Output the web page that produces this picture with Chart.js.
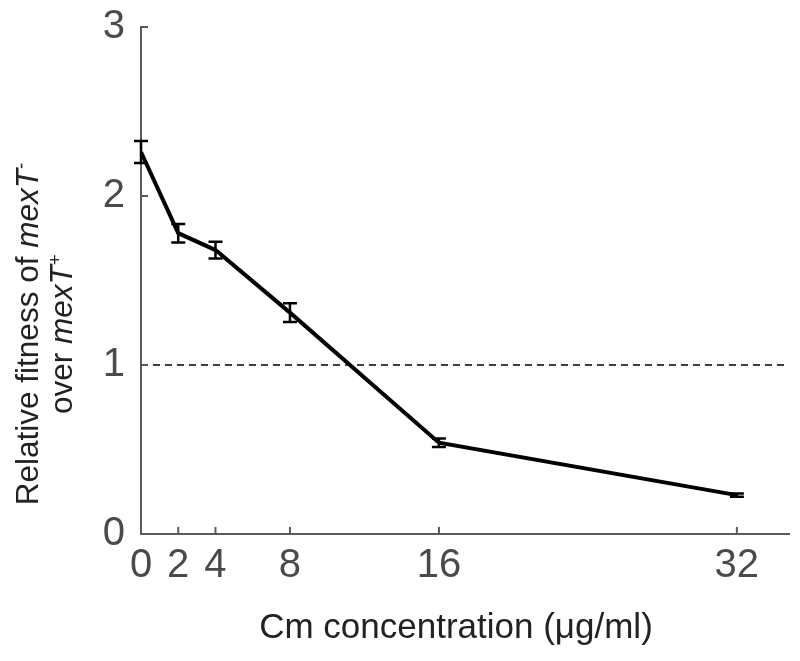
<!DOCTYPE html>
<html>
<head>
<meta charset="utf-8">
<script src="https://cdn.jsdelivr.net/npm/chart.js@4.4.1/dist/chart.umd.min.js"></script>
<style>
  html, body { margin: 0; padding: 0; background: #fff; }
  #wrap { position: relative; width: 800px; height: 661px; }
  #ytitle {
    position: absolute; left: 44px; top: 334px; width: 420px;
    transform: translate(-50%, -50%) rotate(-90deg);
    font-family: "Liberation Sans", Arial, sans-serif; font-size: 31.5px;
    line-height: 34px; text-align: center; color: #222;
  }
  #xtitle {
    position: absolute; left: 456px; top: 626px; transform: translate(-50%, -50%);
    font-family: "Liberation Sans", Arial, sans-serif; font-size: 35px;
    color: #222; white-space: nowrap;
  }
  sup { font-size: 60%; line-height: 0; }
</style>
</head>
<body>
<div id="wrap">
  <canvas id="fitChart" width="800" height="661"></canvas>
  <div id="ytitle">Relative fitness of <i>mexT</i><sup>-</sup><br>over <i>mexT</i><sup>+</sup></div>
  <div id="xtitle">Cm concentration (μg/ml)</div>
</div>
<script>
// data
var concentrations = [0, 2, 4, 8, 16, 32];
var fitness = [2.26, 1.78, 1.68, 1.31, 0.54, 0.23];
var fitnessErr = [0.065, 0.055, 0.05, 0.055, 0.025, 0.01];
var xTicks = [0, 2, 4, 8, 16, 32];
var yTicks = [0, 1, 2, 3];
var neutralLine = 1;

var axisColor = '#5a5a5a';

// error bars + inward tick marks
var extrasPlugin = {
    id: 'extras',
    afterDatasetsDraw: function (chart) {
        var ctx = chart.ctx;
        var xs = chart.scales.x, ys = chart.scales.y;
        ctx.save();
        ctx.strokeStyle = '#000';
        ctx.lineWidth = 2.5;
        concentrations.forEach(function (c, i) {
            var px = xs.getPixelForValue(c);
            var top = ys.getPixelForValue(fitness[i] + fitnessErr[i]);
            var bot = ys.getPixelForValue(fitness[i] - fitnessErr[i]);
            ctx.beginPath();
            ctx.moveTo(px, top); ctx.lineTo(px, bot);
            ctx.moveTo(px - 7, top); ctx.lineTo(px + 7, top);
            ctx.moveTo(px - 7, bot); ctx.lineTo(px + 7, bot);
            ctx.stroke();
        });
        ctx.strokeStyle = axisColor;
        ctx.lineWidth = 2;
        var area = chart.chartArea;
        xTicks.forEach(function (t) {
            var px = xs.getPixelForValue(t);
            ctx.beginPath();
            ctx.moveTo(px, area.bottom); ctx.lineTo(px, area.bottom - 7);
            ctx.stroke();
        });
        yTicks.forEach(function (t) {
            var py = ys.getPixelForValue(t);
            ctx.beginPath();
            ctx.moveTo(area.left, py); ctx.lineTo(area.left + 7, py);
            ctx.stroke();
        });
        ctx.restore();
    }
};

var ctx = document.getElementById('fitChart');
new Chart(ctx, {
    type: 'line',
    data: {
        datasets: [{
            data: concentrations.map(function (c, i) { return { x: c, y: fitness[i] }; }),
            borderColor: '#000',
            borderWidth: 4,
            pointRadius: 0,
            tension: 0
        }, {
            data: [{ x: 0, y: neutralLine }, { x: 34.8, y: neutralLine }],
            borderColor: '#000',
            borderWidth: 1.5,
            borderDash: [7, 5],
            pointRadius: 0
        }]
    },
    options: {
        responsive: false,
        animation: false,
        layout: { padding: { left: 0, top: 27, right: 11, bottom: 0 } },
        plugins: {
            legend: { display: false },
            tooltip: { enabled: false }
        },
        scales: {
            x: {
                type: 'linear',
                min: 0,
                max: 34.8,
                afterBuildTicks: function (scale) {
                    scale.ticks = xTicks.map(function (v) { return { value: v }; });
                },
                afterFit: function (scale) {
                    scale.height = 127;
                    scale.paddingRight = 0;
                },
                grid: { display: false, drawTicks: false },
                border: { display: true, color: axisColor, width: 2 },
                ticks: {
                    padding: 8,
                    color: '#4a4a4a',
                    maxRotation: 0,
                    autoSkip: false,
                    font: { family: 'Liberation Sans', size: 40 }
                }
            },
            y: {
                min: 0,
                max: 3,
                afterBuildTicks: function (scale) {
                    scale.ticks = yTicks.map(function (v) { return { value: v }; });
                },
                afterFit: function (scale) {
                    scale.width = 141;
                    scale.paddingTop = 0;
                    scale.paddingBottom = 0;
                },
                grid: { display: false, drawTicks: false },
                border: { display: true, color: axisColor, width: 2 },
                ticks: {
                    padding: 16,
                    color: '#4a4a4a',
                    font: { family: 'Liberation Sans', size: 40 }
                }
            }
        }
    },
    plugins: [extrasPlugin]
});
</script>
</body>
</html>
